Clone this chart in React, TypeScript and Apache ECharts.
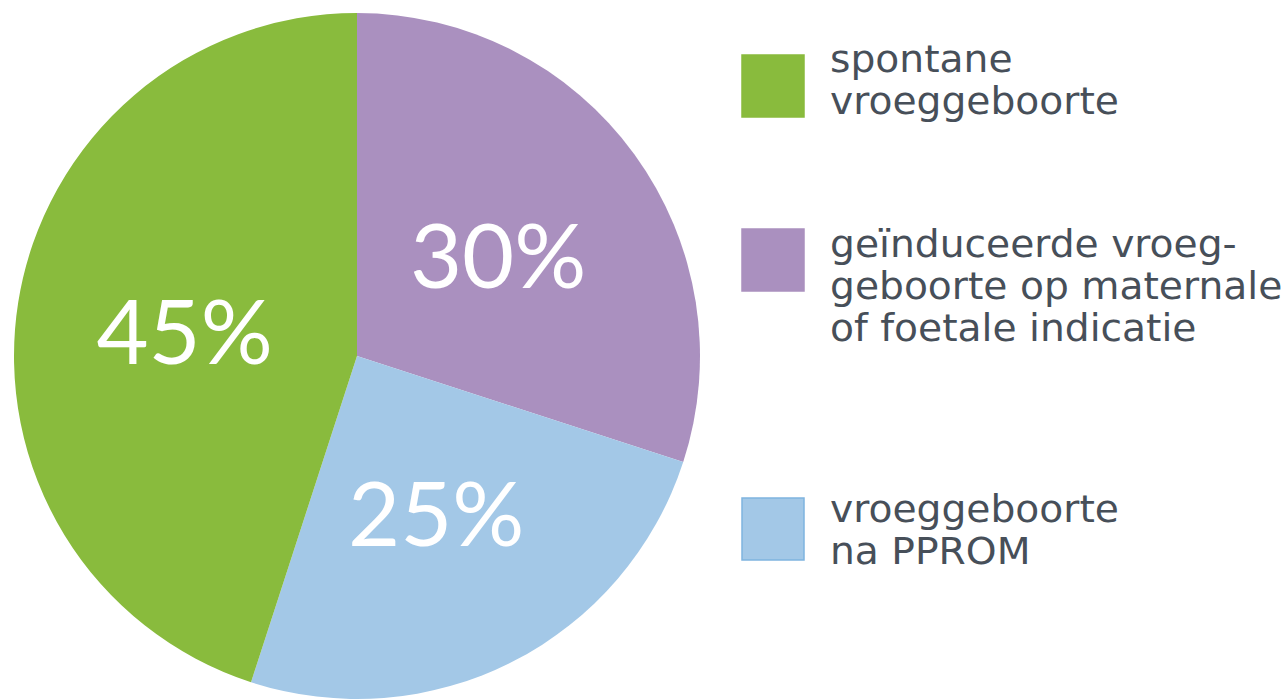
import React, { useEffect, useRef } from "react";
import * as echarts from "echarts";

const categories = [
  "geïnduceerde vroeggeboorte op maternale of foetale indicatie",
  "vroeggeboorte na PPROM",
  "spontane vroeggeboorte",
];
const values = [30, 25, 45];
const colors = ["#aa90bf", "#a3c8e7", "#89bb3d"];

const legendLines = [
  ["spontane", "vroeggeboorte"],
  ["geïnduceerde vroeg-", "geboorte op maternale", "of foetale indicatie"],
  ["vroeggeboorte", "na PPROM"],
];
const legendColors = ["#89bb3d", "#aa90bf", "#a3c8e7"];
const legendBorders = ["#89bb3d", "#aa90bf", "#7fb4df"];

export default function App() {
  const ref = useRef<HTMLDivElement>(null);
  useEffect(() => {
    if (!ref.current) return;
    const chart = echarts.init(ref.current, undefined, { renderer: "svg" });
    const tops = [55, 229, 498];
    const textTops = [38, 223, 488];
    const graphic: any[] = [];
    legendLines.forEach((lines, i) => {
      graphic.push({
        type: "rect",
        shape: { x: 742, y: tops[i], width: 62, height: 62 },
        style: { fill: legendColors[i], stroke: legendBorders[i], lineWidth: 1.5 },
      });
      graphic.push({
        type: "text",
        x: 830,
        y: textTops[i],
        scaleX: 1.06,
        style: {
          text: lines.join("\n"),
          fill: "#474f59",
          font: "37px 'DejaVu Sans'",
          lineHeight: 42,
          verticalAlign: "top",
          align: "left",
        },
      });
    });
    chart.setOption({
      animation: false,
      graphic,
      series: [
        {
          type: "pie",
          center: [357, 356],
          radius: 343,
          startAngle: 90,
          clockwise: true,
          silent: true,
          data: categories.map((name, i) => ({
            name,
            value: values[i],
            itemStyle: { color: colors[i] },
          })),
          label: {
            position: "inside",
            formatter: "{c}%",
            color: "#ffffff",
            fontSize: 90,
            fontFamily: "Lato",
            fontWeight: 400,
          },
          labelLine: { show: false },
        },
      ],
    });
    return () => chart.dispose();
  }, []);
  return <div ref={ref} style={{ width: 1284, height: 700, position: "absolute", left: 0, top: 0 }} />;
}
